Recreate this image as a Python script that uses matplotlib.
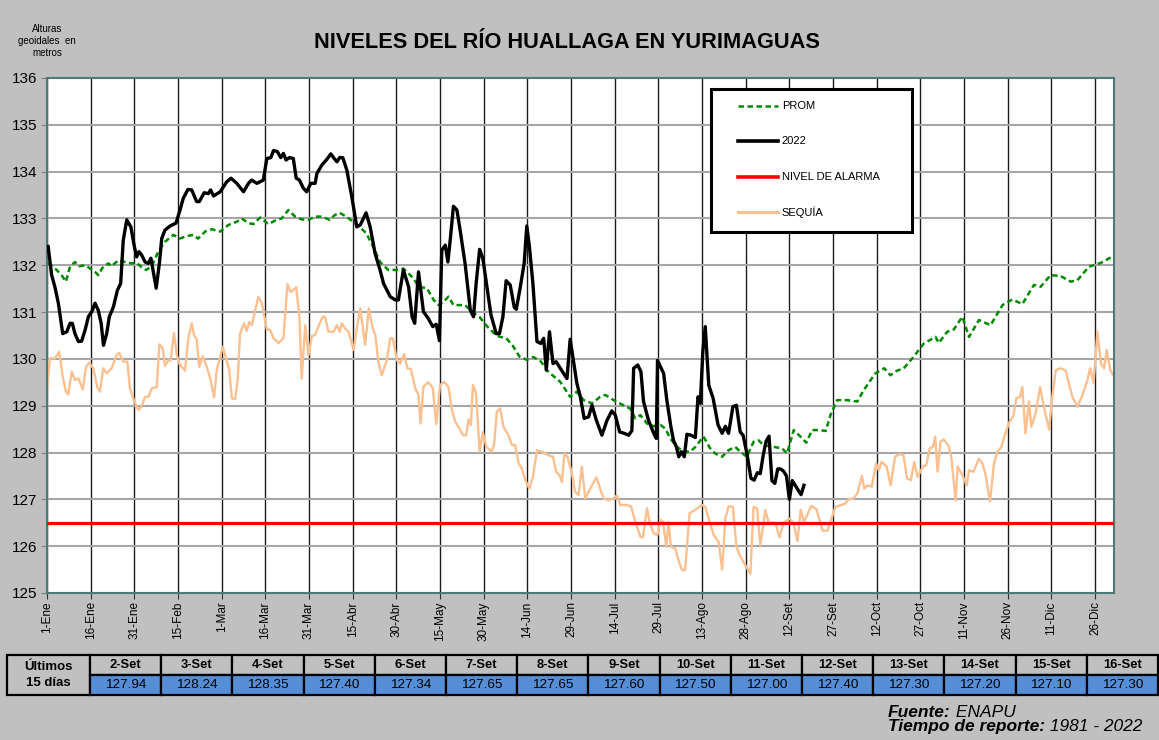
import numpy as np
import matplotlib
matplotlib.use("Agg")
from matplotlib import pyplot as plt
from matplotlib.patches import Rectangle
from matplotlib.lines import Line2D

plt.rcParams['font.family'] = ['Liberation Sans', 'DejaVu Sans']

# dia del año (1-Ene = 0) y nivel en metros
dias_2022 = [0.4, 1.6, 2.7, 3.9, 5.4, 6.8, 7.9, 8.7, 9.6, 10.8, 11.9, 13.1, 14.2, 15.4, 16.5,
             17.6, 18.6, 19.4, 20.5, 21.4, 22.8, 24.2, 25.3, 26.2, 27.4, 28.8, 30.0, 30.8, 31.6,
             32.5, 33.7, 34.8, 35.7, 37.5, 38.6, 39.4, 40.5, 42.3, 44.3, 45.7, 46.8, 48.4, 49.7,
             51.4, 52.3, 54.0, 55.4, 56.2, 57.2, 59.5, 61.7, 63.2, 65.2, 67.5, 69.2, 70.3, 72.1,
             74.3, 75.5, 76.9, 77.8, 79.1, 80.3, 81.2, 82.1, 83.3, 84.6, 85.6, 86.7, 88.1, 89.2,
             90.6, 92.1, 92.7, 94.4, 96.1, 97.5, 98.4, 99.6, 100.5, 101.6, 103.0, 104.7, 106.4,
             107.6, 109.6, 111.0, 112.7, 114.4, 115.6, 117.9, 119.6, 120.7, 122.4, 124.2, 125.4,
             126.3, 127.6, 129.3, 131.0, 132.5, 133.7, 134.8, 135.6, 136.8, 137.7, 138.5, 139.6,
             140.8, 141.9, 143.6, 145.4, 146.5, 147.4, 148.6, 149.7, 151.1, 152.5, 154.3, 155.4,
             156.6, 157.7, 159.1, 160.5, 161.2, 162.5, 163.9, 164.8, 165.7, 166.9, 168.3, 169.6,
             170.6, 171.5, 172.6, 173.8, 174.9, 176.3, 178.6, 179.7, 180.8, 182.0, 183.2, 184.5,
             186.0, 187.2, 188.7, 190.6, 192.3, 194.0, 195.2, 196.7, 198.3, 199.8, 200.9, 201.5,
             202.9, 204.0, 204.9, 206.6, 208.4, 209.3, 209.7, 211.8, 212.9, 214.3, 215.2, 216.2,
             217.0, 217.9, 218.9, 219.8, 221.2, 222.7, 223.6, 224.4, 225.3, 226.1, 227.3, 228.8,
             230.5, 231.9, 233.0, 234.1, 235.6, 236.8, 238.1, 239.1, 240.4, 241.8, 242.9, 244.0,
             245.0]
nivel_2022 = [132.40, 131.79, 131.54, 131.19, 130.54, 130.58, 130.76, 130.76, 130.54, 130.37,
              130.38, 130.62, 130.90, 131.01, 131.19, 131.04, 130.76, 130.29, 130.54, 130.90,
              131.11, 131.47, 131.61, 132.54, 132.97, 132.82, 132.40, 132.18, 132.29, 132.22,
              132.07, 132.04, 132.15, 131.51, 132.04, 132.57, 132.75, 132.84, 132.90, 133.18,
              133.43, 133.62, 133.61, 133.36, 133.36, 133.55, 133.53, 133.61, 133.48, 133.57,
              133.78, 133.86, 133.75, 133.57, 133.75, 133.82, 133.75, 133.82, 134.28, 134.30,
              134.45, 134.43, 134.30, 134.39, 134.25, 134.30, 134.28, 133.86, 133.82, 133.64,
              133.57, 133.75, 133.75, 133.96, 134.14, 134.26, 134.38, 134.30, 134.21, 134.30,
              134.30, 134.03, 133.46, 132.82, 132.86, 133.12, 132.82, 132.25, 131.90, 131.61,
              131.33, 131.26, 131.26, 131.90, 131.54, 130.90, 130.76, 131.86, 131.01, 130.86,
              130.69, 130.74, 130.39, 132.32, 132.43, 132.07, 132.54, 133.26, 133.18, 132.75,
              132.04, 131.04, 130.90, 131.61, 132.34, 132.15, 131.54, 130.94, 130.54, 130.54,
              130.90, 131.67, 131.58, 131.10, 131.06, 131.51, 132.04, 132.84, 132.40, 131.61,
              130.37, 130.33, 130.44, 129.76, 130.58, 129.90, 129.94, 129.80, 129.58, 130.42,
              129.97, 129.48, 129.19, 128.73, 128.76, 129.01, 128.69, 128.37, 128.68, 128.89,
              128.80, 128.44, 128.41, 128.37, 128.47, 129.80, 129.87, 129.73, 129.09, 128.69,
              128.41, 128.30, 129.97, 129.69, 129.12, 128.55, 128.26, 128.12, 127.91, 128.02,
              127.91, 128.39, 128.37, 128.32, 129.19, 129.05, 130.19, 130.69, 129.44, 129.16,
              128.59, 128.41, 128.56, 128.41, 128.98, 129.01, 128.44, 128.37, 127.98, 127.45,
              127.41, 127.57, 127.55]

# ultimos 15 dias (tabla)
fechas_15 = ['2-Set', '3-Set', '4-Set', '5-Set', '6-Set', '7-Set', '8-Set', '9-Set', '10-Set',
             '11-Set', '12-Set', '13-Set', '14-Set', '15-Set', '16-Set']
valores_15 = [127.94, 128.24, 128.35, 127.40, 127.34, 127.65, 127.65, 127.60, 127.50,
              127.00, 127.40, 127.30, 127.20, 127.10, 127.30]
dias_15 = [246, 247, 248, 249, 250, 251, 252, 253, 254, 255, 256, 257, 258, 259, 260]

dias_prom = [0.4, 3.3, 5.0, 6.5, 7.9, 9.6, 11.1, 13.1, 14.8, 16.5, 17.6, 19.3, 21.1, 22.2, 24.5,
             26.8, 29.1, 30.8, 32.5, 34.0, 35.9, 38.2, 40.5, 43.4, 45.6, 47.9, 50.2, 51.9, 54.3,
             56.6, 59.5, 62.3, 65.2, 66.9, 69.2, 70.9, 73.2, 76.0, 78.9, 80.6, 82.9, 85.2, 87.5,
             89.8, 92.1, 94.4, 97.1, 98.8, 100.5, 102.8, 105.1, 107.4, 109.7, 112.0, 114.4, 117.2,
             120.2, 122.4, 123.6, 125.9, 127.6, 130.5, 132.8, 134.5, 136.2, 137.9, 139.6, 143.6,
             145.9, 148.5, 151.1, 154.5, 157.8, 160.0, 162.3, 164.8, 167.1, 169.7, 172.3, 176.3,
             179.7, 182.0, 184.3, 187.2, 190.0, 191.8, 194.6, 198.0, 200.3, 202.1, 203.8, 206.1,
             208.4, 210.7, 212.4, 214.1, 216.4, 218.7, 221.0, 222.7, 225.5, 227.8, 229.5, 231.9,
             234.1, 236.4, 238.1, 240.4, 242.7, 244.4, 246.1, 249.6, 252.5, 254.2, 256.5, 258.8,
             260.8, 262.8, 265.4, 267.5, 269.1, 271.4, 274.8, 278.3, 280.5, 284.5, 287.6, 289.7,
             292.0, 294.3, 297.2, 301.2, 305.2, 306.3, 309.2, 311.5, 314.4, 316.7, 320.1, 324.1,
             328.2, 331.6, 335.0, 339.0, 341.3, 344.7, 348.2, 351.6, 353.9, 357.9, 361.9, 363.6,
             364.8, 366.3]
nivel_prom = [132.05, 131.90, 131.79, 131.65, 131.97, 132.07, 131.98, 132.00, 131.93, 131.86,
              131.79, 131.97, 132.04, 131.98, 132.11, 132.07, 132.04, 132.05, 131.96, 131.90,
              131.97, 132.29, 132.50, 132.65, 132.57, 132.62, 132.65, 132.57, 132.72, 132.77,
              132.72, 132.86, 132.93, 133.00, 132.90, 132.88, 133.02, 132.88, 132.97, 133.00,
              133.18, 133.04, 132.98, 132.97, 133.04, 133.04, 132.97, 133.07, 133.12, 133.04,
              132.93, 132.82, 132.68, 132.40, 132.07, 131.90, 131.90, 131.93, 131.86, 131.72,
              131.54, 131.51, 131.26, 131.15, 131.22, 131.33, 131.15, 131.15, 131.01, 130.90,
              130.70, 130.49, 130.44, 130.28, 130.05, 129.98, 130.04, 129.94, 129.72, 129.51,
              129.19, 129.30, 129.12, 129.05, 129.19, 129.23, 129.12, 129.01, 128.94, 128.73,
              128.80, 128.62, 128.56, 128.59, 128.51, 128.30, 128.12, 128.02, 128.02, 128.12,
              128.34, 128.09, 127.98, 127.91, 128.05, 128.12, 128.02, 127.91, 128.23, 128.26,
              128.16, 128.12, 128.09, 127.98, 128.48, 128.34, 128.21, 128.48, 128.48, 128.46,
              128.80, 129.12, 129.12, 129.09, 129.33, 129.69, 129.80, 129.65, 129.75, 129.80,
              130.01, 130.33, 130.47, 130.34, 130.58, 130.63, 130.90, 130.47, 130.83, 130.72,
              131.15, 131.27, 131.17, 131.58, 131.54, 131.79, 131.77, 131.65, 131.68, 131.97,
              132.05, 132.10, 132.15, 132.17]

dias_sequia = [0.1, 1.0, 2.7, 4.2, 5.4, 6.5, 7.3, 8.5, 9.6, 10.8, 12.3, 13.4, 14.5, 15.9, 17.3,
               18.2, 19.3, 20.5, 22.2, 23.9, 24.8, 26.2, 27.6, 28.5, 30.0, 31.4, 32.5, 33.7, 34.8,
               36.0, 37.7, 38.6, 39.8, 40.5, 41.7, 42.5, 43.6, 44.6, 45.4, 47.4, 48.5, 49.7, 50.5,
               51.4, 52.3, 53.5, 54.9, 56.2, 57.4, 58.3, 60.4, 61.7, 62.6, 63.5, 64.6, 65.5, 66.3,
               67.7, 68.6, 69.5, 70.4, 71.5, 72.6, 73.8, 75.5, 76.6, 77.8, 79.5, 81.2, 82.6, 83.7,
               85.6, 86.7, 87.5, 88.7, 89.8, 91.0, 92.1, 93.2, 94.7, 95.5, 96.7, 98.4, 99.6, 100.5,
               101.3, 102.4, 103.6, 105.3, 106.4, 107.6, 109.3, 110.5, 111.7, 112.8, 113.8, 115.0,
               116.7, 117.9, 118.8, 120.2, 121.3, 122.7, 123.8, 125.0, 126.5, 127.6, 128.3, 129.3,
               131.0, 132.5, 133.7, 135.0, 136.4, 137.9, 139.1, 140.2, 141.7, 142.9, 144.0, 144.8,
               145.6, 146.3, 147.4, 148.6, 149.7, 150.9, 152.8, 153.6, 154.5, 155.7, 156.8, 158.5,
               159.7, 160.8, 162.0, 163.1, 164.3, 165.7, 166.9, 168.3, 170.0, 172.3, 173.8, 174.9,
               176.0, 176.9, 177.7, 178.8, 180.3, 181.4, 182.6, 183.7, 184.9, 186.6, 188.7, 190.0,
               191.2, 192.9, 194.6, 195.8, 196.9, 199.2, 200.6, 202.1, 203.8, 204.7, 206.1, 207.0,
               208.4, 209.7, 210.7, 211.6, 212.7, 213.5, 214.3, 215.8, 216.9, 218.1, 219.2, 220.7,
               222.7, 225.0, 226.1, 227.6, 229.0, 230.7, 231.9, 233.0, 234.1, 235.6, 236.8, 237.9,
               239.9, 241.6, 242.7, 243.9, 245.0, 246.1, 246.7, 247.9, 250.2, 251.6, 253.0, 255.1,
               256.5, 257.8, 258.9, 260.0, 262.5, 264.3, 266.4, 268.1, 270.8, 272.4, 274.2, 275.3,
               277.0, 278.4, 279.9, 280.7, 281.8, 283.3, 284.8, 285.7, 286.7, 288.4, 289.8, 291.3,
               292.8, 294.2, 295.4, 296.7, 297.9, 299.0, 300.9, 302.0, 303.2, 304.3, 305.1, 305.9,
               306.9, 308.0, 309.7, 310.6, 312.1, 312.8, 314.4, 315.9, 316.7, 318.2, 320.1, 321.3,
               322.4, 323.9, 325.3, 326.5, 327.8, 329.0, 330.4, 331.9, 333.0, 334.2, 335.0, 336.1,
               337.3, 338.1, 339.6, 341.1, 342.4, 344.2, 345.3, 346.5, 348.2, 349.9, 352.2, 353.9,
               355.7, 357.4, 358.3, 359.5, 360.8, 362.0, 363.1, 364.0, 365.2, 366.3]
nivel_sequia = [129.40, 130.01, 130.01, 130.15, 129.62, 129.30, 129.24, 129.73, 129.55, 129.58,
                129.35, 129.83, 129.92, 129.80, 129.39, 129.30, 129.80, 129.69, 129.80, 130.08,
                130.13, 129.94, 129.94, 129.37, 129.09, 128.91, 128.99, 129.19, 129.19, 129.37,
                129.40, 130.31, 130.22, 129.85, 129.97, 129.97, 130.56, 130.08, 129.90, 129.75,
                130.42, 130.76, 130.51, 130.42, 129.83, 130.06, 129.83, 129.55, 129.18, 129.76,
                130.26, 129.97, 129.76, 129.16, 129.14, 129.55, 130.54, 130.76, 130.60, 130.79,
                130.72, 131.04, 131.33, 131.19, 130.63, 130.62, 130.44, 130.34, 130.44, 131.60,
                131.43, 131.53, 130.90, 129.58, 130.72, 130.08, 130.49, 130.51, 130.69, 130.90,
                130.90, 130.58, 130.58, 130.72, 130.58, 130.76, 130.65, 130.58, 130.19, 130.65,
                131.08, 130.30, 131.08, 130.70, 130.50, 129.94, 129.65, 129.97, 130.44, 130.44,
                129.97, 129.90, 130.10, 129.80, 129.78, 129.37, 129.23, 128.62, 129.41, 129.50,
                129.38, 128.61, 129.44, 129.51, 129.40, 128.91, 128.66, 128.51, 128.37, 128.37,
                128.71, 128.59, 129.44, 129.26, 128.02, 128.44, 128.12, 128.02, 128.19, 128.87,
                128.94, 128.55, 128.37, 128.16, 128.16, 127.77, 127.66, 127.41, 127.23, 127.48,
                128.05, 128.02, 127.94, 127.91, 127.59, 127.52, 127.37, 127.98, 127.91, 127.55,
                127.16, 127.09, 127.70, 127.02, 127.23, 127.47, 127.23, 127.02, 126.98, 127.02,
                127.09, 126.88, 126.88, 126.85, 126.52, 126.20, 126.19, 126.81, 126.52, 126.27,
                126.24, 126.56, 126.52, 125.99, 126.52, 125.99, 125.95, 125.70, 125.49, 125.49,
                126.70, 126.78, 126.88, 126.84, 126.52, 126.24, 126.09, 125.50, 126.59, 126.85,
                126.84, 125.99, 125.81, 125.59, 125.41, 126.84, 126.81, 126.02, 126.48, 126.77,
                126.50, 126.50, 126.19, 126.50, 126.59, 126.48, 126.11, 126.78, 126.51, 126.86,
                126.79, 126.33, 126.33, 126.84, 126.87, 126.91, 127.00, 127.02, 127.13, 127.50,
                127.23, 127.30, 127.27, 127.77, 127.62, 127.80, 127.70, 127.30, 127.91, 127.97,
                127.94, 127.45, 127.41, 127.80, 127.48, 127.70, 127.73, 128.09, 128.12, 128.34,
                127.59, 128.23, 128.28, 128.14, 127.91, 126.98, 127.70, 127.52, 127.30, 127.62,
                127.59, 127.87, 127.77, 127.52, 126.95, 127.77, 128.02, 128.12, 128.37, 128.63,
                128.78, 129.16, 129.19, 129.40, 128.41, 129.09, 128.55, 128.84, 129.40, 128.98,
                128.49, 129.19, 129.76, 129.80, 129.75, 129.19, 128.98, 129.23, 129.55, 129.80,
                129.49, 130.58, 129.90, 129.80, 130.19, 129.76, 129.65]

nivel_alarma = 126.5

dias_ticks = list(range(0, 361, 15))
etiquetas_x = ['1-Ene', '16-Ene', '31-Ene', '15-Feb', '1-Mar', '16-Mar', '31-Mar', '15-Abr',
               '30-Abr', '15-May', '30-May', '14-Jun', '29-Jun', '14-Jul', '29-Jul', '13-Ago',
               '28-Ago', '12-Set', '27-Set', '12-Oct', '27-Oct', '11-Nov', '26-Nov', '11-Dic',
               '26-Dic']

W, H = 1159, 740
gris = '#C0C0C0'
fig = plt.figure(figsize=(W / 100, H / 100), dpi=100, facecolor=gris)

# capa en pixeles para titulo, tabla y pie
capa = fig.add_axes([0, 0, 1, 1])
capa.set_xlim(0, W)
capa.set_ylim(H, 0)
capa.axis('off')

capa.text(567, 42, 'NIVELES DEL RÍO HUALLAGA EN YURIMAGUAS', fontsize=15.7,
          fontweight='bold', ha='center', va='center')
capa.text(47, 41, 'Alturas\ngeoidales  en\nmetros', fontsize=7, ha='center', va='center',
          linespacing=1.3)

# tabla ultimos 15 dias
x0, ancho = 90, 71.2
capa.add_patch(Rectangle((7, 655), x0 - 7, 40, facecolor=gris, edgecolor='black', lw=1.6))
capa.text((7 + x0) / 2, 675, 'Últimos\n15 días', fontsize=9.5, fontweight='bold',
          ha='center', va='center', linespacing=1.5)
for i, (f, v) in enumerate(zip(fechas_15, valores_15)):
    xi = x0 + i * ancho
    capa.add_patch(Rectangle((xi, 655), ancho, 20, facecolor=gris, edgecolor='black', lw=1.6))
    capa.add_patch(Rectangle((xi, 675), ancho, 20, facecolor='#558ED5', edgecolor='black', lw=1.6))
    capa.text(xi + ancho / 2, 665.5, f, fontsize=9.3, fontweight='bold', ha='center', va='center')
    capa.text(xi + ancho / 2, 685.5, f'{v:.2f}', fontsize=9.7, ha='center', va='center')

t1 = capa.text(888, 717, 'Fuente:', fontsize=12.5, fontweight='bold', style='italic',
               ha='left', va='baseline')
capa.annotate(' ENAPU', xy=(1, 0), xycoords=t1, fontsize=12.5, style='italic',
              ha='left', va='bottom')
t2 = capa.text(888, 731, 'Tiempo de reporte:', fontsize=12.5, fontweight='bold', style='italic',
               ha='left', va='baseline')
capa.annotate(' 1981 - 2022', xy=(1, 0), xycoords=t2, fontsize=12.5, style='italic',
              ha='left', va='bottom')

# grafico principal
ax = fig.add_axes([47 / W, 1 - 593 / H, 1067 / W, 515 / H])
ax.set_facecolor('white')
ax.set_xlim(0, 366.5)
ax.set_ylim(125, 136)
ax.set_axisbelow(True)
ax.yaxis.grid(True, color='#A6A6A6', lw=1.5)
ax.xaxis.grid(True, color='#1a1a1a', lw=1.0)

ax.plot(dias_sequia, nivel_sequia, color='#FAC090', lw=1.7, zorder=2)
ax.axhline(nivel_alarma, color='#FF0000', lw=2.3, zorder=3)
ax.plot(dias_prom, nivel_prom, color='#008A00', lw=1.8, ls=(0, (2.2, 1.4)), zorder=4)
ax.plot(dias_2022 + dias_15, nivel_2022 + valores_15, color='black', lw=2.4, zorder=5)

ax.set_xticks(dias_ticks)
ax.set_xticklabels(etiquetas_x, rotation=90, fontsize=8.5)
ax.set_yticks(range(125, 137))
ax.tick_params(axis='y', labelsize=11, length=4, color='#808080', pad=3)
ax.tick_params(axis='x', length=4, color='#333333', pad=2)
for s in ax.spines.values():
    s.set_color('#4F7878')
    s.set_linewidth(1.5)

# leyenda dibujada en fraccion de ejes
tr = ax.transAxes
ax.add_patch(Rectangle((0.6223, 0.701), 0.1884, 0.2776, transform=tr, facecolor='white',
                       edgecolor='black', lw=2.2, zorder=6))
items = [('PROM', dict(color='#008A00', lw=1.8, ls=(0, (2.2, 1.4)))),
         ('2022', dict(color='black', lw=2.6)),
         ('NIVEL DE ALARMA', dict(color='#FF0000', lw=2.6)),
         ('SEQUÍA', dict(color='#FAC090', lw=2.2))]
for k, (lab, st) in enumerate(items):
    yk = 0.9456 - k * 0.0687
    ax.add_line(Line2D([0.6476, 0.6851], [yk, yk], transform=tr, zorder=7, **st))
    ax.text(0.6885, yk, lab, transform=tr, fontsize=8, va='center', ha='left', zorder=7)

fig.savefig('out.png', dpi=100, facecolor=gris)
